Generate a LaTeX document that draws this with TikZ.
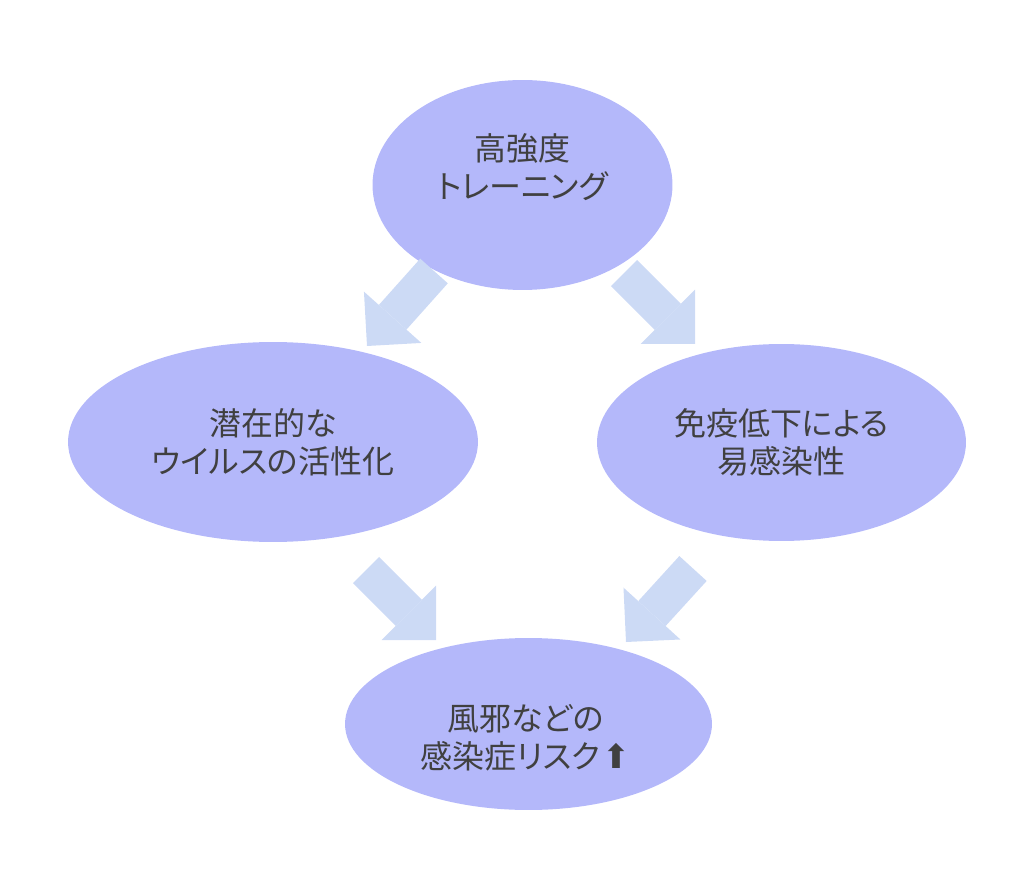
\documentclass[tikz,border=0pt]{standalone}
\usepackage{fontspec}
\newfontfamily\jp{Noto Sans CJK JP}[RawFeature=+palt]
\newfontfamily\symfont{DejaVu Sans}
\usetikzlibrary{shapes.geometric,arrows.meta}
\definecolor{ellfill}{RGB}{180,184,250}
\definecolor{arrfill}{RGB}{204,218,245}
\definecolor{txt}{RGB}{64,64,64}
\tikzset{
  bubble/.style={ellipse, fill=ellfill, draw=none, inner sep=0pt},
  bubbletext/.style={align=center, inner sep=0pt, text=txt,
    font=\jp\fontsize{18.2pt}{21.5pt}\selectfont},
  blockarrow/.style={draw=arrfill, line width=0.74cm, line cap=butt,
    -{Triangle[length=0.77cm, width=1.54cm, line width=0pt]}, arrfill}
}
\begin{document}
\begin{tikzpicture}[x=0.02cm,y=-0.02cm]
\useasboundingbox (0,0) rectangle (1024,874);
\node[bubble, minimum width=6cm, minimum height=4.2cm] (top) at (522.5,185) {};
\node[bubble, minimum width=8.2cm, minimum height=4.0cm] (left) at (273,442) {};
\node[bubble, minimum width=7.38cm, minimum height=3.94cm] (right) at (781.5,442.5) {};
\node[bubble, minimum width=7.34cm, minimum height=3.44cm] (bottom) at (528.5,724) {};
\node[bubbletext] (toptext) at ([yshift=0.36cm]top.center) {高強度\\トレーニング};
\node[bubbletext] (lefttext) at (left.center) {潜在的な\\ウイルスの活性化};
\node[bubbletext] (righttext) at (right.center) {免疫低下による\\易感染性};
\node[bubbletext] (bottomtext) at ([yshift=-0.28cm,xshift=-0.06cm]bottom.center) {風邪などの\\感染症リスク\kern1pt{\symfont\fontsize{19pt}{19pt}\selectfont ⬆}};
\coordinate (a1s) at (434,271);
\coordinate (a1e) at (367,346);
\coordinate (a2s) at (624,273);
\coordinate (a2e) at (695,344);
\coordinate (a3s) at (366,570);
\coordinate (a3e) at (436,640);
\coordinate (a4s) at (693,568.5);
\coordinate (a4e) at (626,642);
\draw[blockarrow] (a1s) -- (a1e);
\draw[blockarrow] (a2s) -- (a2e);
\draw[blockarrow] (a3s) -- (a3e);
\draw[blockarrow] (a4s) -- (a4e);
\end{tikzpicture}
\end{document}
